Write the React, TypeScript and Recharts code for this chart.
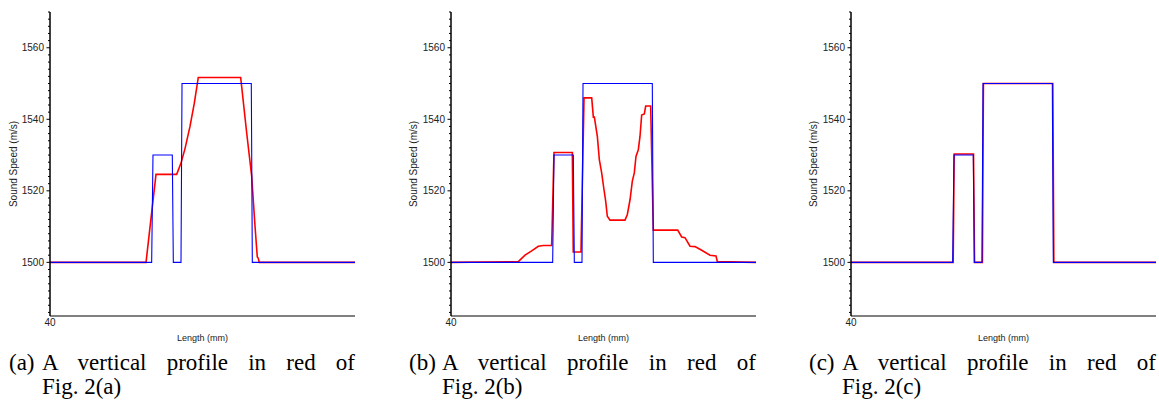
import { LineChart, Line, XAxis, YAxis } from 'recharts'

// true (blue) step profile, shared by all three panels
const trueLength = [40, 60.0, 60.26, 64.06, 64.26, 65.77, 65.97, 79.6, 79.8, 100]
const trueSpeed = [1500, 1500, 1530, 1530, 1500, 1500, 1550, 1550, 1500, 1500]

// red vertical profiles
const profileALength = [40, 58.89, 60.85, 64.92, 65.77, 66.56, 67.54, 68.39, 69.17, 77.51, 78.7, 79.68, 80.33, 80.78, 80.95, 81.17, 100]
const profileASpeed = [1500, 1500, 1524.6, 1524.6, 1527.8, 1531.8, 1538, 1544.5, 1551.7, 1551.7, 1536.1, 1524, 1510.1, 1501.5, 1501.2, 1500, 1500]

const profileBLength = [40, 53.25, 54.56, 55.87, 57.18, 58.16, 59.8, 60.26, 63.87, 64.05, 65.57, 66.17, 67.68, 68.0, 68.2, 68.79, 69.18, 69.64, 70.1, 70.43, 70.75, 71.28, 74.23, 74.69, 75.22, 75.67, 76.06, 76.39, 76.85, 77.18, 77.51, 78.03, 78.3, 79.28, 79.8, 84.6, 85.38, 86.03, 87.02, 88.0, 89.32, 90.95, 92.13, 92.39, 100]
const profileBSpeed = [1500, 1500.2, 1502, 1503.2, 1504.5, 1504.7, 1504.7, 1530.7, 1530.7, 1502.9, 1502.9, 1546, 1546, 1540.6, 1540.6, 1535.2, 1528.7, 1525, 1520.3, 1517.1, 1512.9, 1511.8, 1511.8, 1513.4, 1517.5, 1522.7, 1525, 1529.6, 1531.5, 1535.2, 1541.2, 1541.5, 1543.7, 1543.7, 1509, 1509, 1507.1, 1506.9, 1504.5, 1504.4, 1503.4, 1502, 1501.8, 1500.2, 1500]

const profileCLength = [40, 60.1, 60.3, 64.1, 64.3, 65.85, 66.05, 79.7, 79.9, 100]
const profileCSpeed = [1500, 1500, 1530.3, 1530.3, 1500, 1500, 1550, 1550, 1500, 1500]

const lengthTicks = [40]
const speedTicks = [
  1486, 1488, 1490, 1492, 1494, 1496, 1498, 1500, 1502, 1504, 1506, 1508, 1510, 1512, 1514,
  1516, 1518, 1520, 1522, 1524, 1526, 1528, 1530, 1532, 1534, 1536, 1538, 1540, 1542, 1544,
  1546, 1548, 1550, 1552, 1554, 1556, 1558, 1560, 1562, 1564, 1566, 1568, 1570,
]
const majorSpeeds = [1500, 1520, 1540, 1560]

const captionTags = ['(a)', '(b)', '(c)']
const captionFigs = ['Fig. 2(a)', 'Fig. 2(b)', 'Fig. 2(c)']

const toPoints = (xs: number[], ys: number[]) => xs.map((x, i) => ({ length: x, speed: ys[i] }))

const truth = toPoints(trueLength, trueSpeed)
const profiles = [
  toPoints(profileALength, profileASpeed),
  toPoints(profileBLength, profileBSpeed),
  toPoints(profileCLength, profileCSpeed),
]

const sans = '"Liberation Sans", Arial, Helvetica, sans-serif'
const serif = '"Liberation Serif", "Times New Roman", Times, serif'

const SpeedTick = (props: any) => {
  const { x, y, payload } = props
  const major = majorSpeeds.includes(payload.value)
  return (
    <g>
      <line x1={x - (major ? 3.5 : 2)} x2={x} y1={y} y2={y} stroke="#000" strokeWidth={1} />
      {major && (
        <text x={x - 6} y={y} dy="0.35em" textAnchor="end" fontSize={10} fill="#222" fontFamily={sans}>
          {payload.value}
        </text>
      )}
    </g>
  )
}

const panels = [
  { left: 0, marginLeft: 10 },
  { left: 400, marginLeft: 11 },
  { left: 800, marginLeft: 11 },
]

function Panel({ idx }: { idx: number }) {
  const { left, marginLeft } = panels[idx]
  const width = idx === 0 ? 358 : 359
  const plotLeft = left + marginLeft + 40
  const plotRight = left + width - 3
  return (
    <>
      <div style={{ position: 'absolute', left, top: 0 }}>
        <LineChart width={width} height={346} margin={{ top: 12, right: 3, left: marginLeft, bottom: 0 }}>
          <XAxis
            type="number"
            dataKey="length"
            domain={[40, 100]}
            ticks={lengthTicks}
            allowDataOverflow
            tickLine={false}
            tickSize={0}
            tickMargin={3}
            axisLine={{ stroke: '#808080', strokeWidth: 2 }}
            tick={{ fontSize: 10, fill: '#222', fontFamily: sans }}
            height={30}
          />
          <XAxis
            xAxisId="top"
            orientation="top"
            type="number"
            domain={[40, 100]}
            tick={false}
            tickLine={false}
            axisLine={{ stroke: '#808080', strokeWidth: 2 }}
            height={0}
          />
          <YAxis
            type="number"
            domain={[1485, 1570]}
            ticks={speedTicks}
            interval={0}
            allowDataOverflow
            tickLine={false}
            tickSize={0}
            tickMargin={0}
            tick={<SpeedTick />}
            axisLine={{ stroke: '#000', strokeWidth: 1.5 }}
            width={40}
          />
          <YAxis
            yAxisId="right"
            orientation="right"
            type="number"
            domain={[1485, 1570]}
            tick={false}
            tickLine={false}
            axisLine={{ stroke: '#000', strokeWidth: 1 }}
            width={0}
          />
          <Line data={profiles[idx]} dataKey="speed" type="linear" stroke="#ff0000" strokeWidth={1.6} dot={false} isAnimationActive={false} />
          <Line data={truth} dataKey="speed" type="linear" stroke="#0000ff" strokeWidth={1.1} dot={false} isAnimationActive={false} />
        </LineChart>
      </div>
      <div
        style={{
          position: 'absolute', left: left + 13, top: 164, transform: 'translate(-50%, -50%) rotate(-90deg)',
          whiteSpace: 'nowrap', fontSize: 10, fontFamily: sans, color: '#222',
        }}
      >
        Sound Speed (m/s)
      </div>
      <div
        style={{
          position: 'absolute', left: (plotLeft + plotRight) / 2, top: 337.5, transform: 'translate(-50%, -50%)',
          whiteSpace: 'nowrap', fontSize: 9, fontFamily: sans, color: '#222',
        }}
      >
        Length (mm)
      </div>
      <div style={{ position: 'absolute', left: left + 9, top: 351, fontFamily: serif, fontSize: 23, lineHeight: '24px', color: '#000' }}>
        {captionTags[idx]}
      </div>
      <div style={{ position: 'absolute', left: left + 42, top: 351, width: plotRight - left - 42, fontFamily: serif, fontSize: 23, lineHeight: '24px', color: '#000' }}>
        <div style={{ textAlign: 'justify', textAlignLast: 'justify' }}>A vertical profile in red of</div>
        <div>{captionFigs[idx]}</div>
      </div>
    </>
  )
}

export default function App() {
  return (
    <div style={{ position: 'absolute', left: 0, top: 0, width: 1159, height: 409, background: '#fff', overflow: 'hidden' }}>
      <Panel idx={0} />
      <Panel idx={1} />
      <Panel idx={2} />
    </div>
  )
}
